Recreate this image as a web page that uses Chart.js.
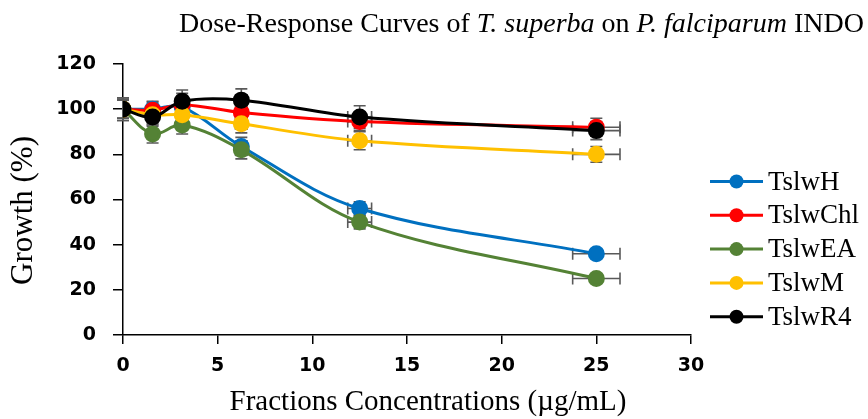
<!DOCTYPE html>
<html>
<head>
<meta charset="utf-8">
<script src="https://cdn.jsdelivr.net/npm/chart.js@4"></script>
<style>
  html, body { margin: 0; padding: 0; background: #fff; }
  #wrap { position: relative; width: 868px; height: 419px; }
  #title {
    position: absolute; left: 179px; top: 9px; white-space: nowrap; line-height: 28px;
    font-family: "Liberation Serif", "Times New Roman", serif; font-size: 28px; color: #000;
  }
</style>
</head>
<body>
<div id="wrap">
  <div id="title">Dose-Response Curves of <i>T. superba</i> on <i>P. falciparum</i> INDO</div>
  <canvas id="doseChart" width="868" height="419"></canvas>
</div>
<script>
// concentrations (µg/mL)
const conc = [0, 1.5625, 3.125, 6.25, 12.5, 25];
const concErr = [0, 0.08, 0.16, 0.31, 0.63, 1.25];

const seriesNames = ['TslwH', 'TslwChl', 'TslwEA', 'TslwM', 'TslwR4'];
const seriesColors = ['#0070C0', '#FF0000', '#548235', '#FFC000', '#000000'];

const tslwH   = [100, 100, 101, 83.5, 56, 36];
const tslwChl = [100, 99.5, 102, 98.5, 94.5, 92];
const tslwEA  = [100, 89, 93, 82, 50, 25];
const tslwM   = [100, 97.5, 97.5, 93.5, 86, 80];
const tslwR4  = [100, 96.5, 103.5, 104, 96.5, 90.5];

const errH   = [4, 3, 4, 4, 3, 2];
const errChl = [5, 4, 5, 4, 4, 4];
const errEA  = [4, 4, 4, 4, 3, 2];
const errM   = [4, 4, 4, 4, 4, 3.5];
const errR4  = [5, 4, 5, 5, 5, 4];

const xTicks = [0, 5, 10, 15, 20, 25, 30];
const yTicks = [0, 20, 40, 60, 80, 100, 120];

const xTitle = 'Fractions Concentrations (µg/mL)';
const yTitle = 'Growth (%)';

const allValues = [tslwH, tslwChl, tslwEA, tslwM, tslwR4];
const allErrors = [errH, errChl, errEA, errM, errR4];

const datasets = seriesNames.map((name, i) => ({
  label: name,
  data: conc.map((x, j) => ({ x: x, y: allValues[i][j] })),
  yErr: allErrors[i],
  borderColor: seriesColors[i],
  backgroundColor: seriesColors[i],
  pointBackgroundColor: seriesColors[i],
  pointBorderColor: seriesColors[i],
  pointRadius: 7,
  borderWidth: 3,
  showLine: true,
  tension: 0.35,
  order: seriesNames.length - i
}));

// error bars, drawn under the lines and markers
const errorBars = {
  id: 'errorBars',
  beforeDatasetsDraw(chart) {
    const ctx = chart.ctx;
    const xs = chart.scales.x, ys = chart.scales.y;
    ctx.save();
    ctx.strokeStyle = '#595959';
    ctx.lineWidth = 1.6;
    chart.data.datasets.forEach(ds => {
      ds.data.forEach((p, j) => {
        const px = xs.getPixelForValue(p.x);
        const py = ys.getPixelForValue(p.y);
        const yTop = ys.getPixelForValue(p.y + ds.yErr[j]);
        const yBot = ys.getPixelForValue(p.y - ds.yErr[j]);
        const xL = xs.getPixelForValue(p.x - concErr[j]);
        const xR = xs.getPixelForValue(p.x + concErr[j]);
        ctx.beginPath();
        ctx.moveTo(px, yTop); ctx.lineTo(px, yBot);
        ctx.moveTo(px - 6, yTop); ctx.lineTo(px + 6, yTop);
        ctx.moveTo(px - 6, yBot); ctx.lineTo(px + 6, yBot);
        if (concErr[j] > 0) {
          ctx.moveTo(xL, py); ctx.lineTo(xR, py);
          ctx.moveTo(xL, py - 6); ctx.lineTo(xL, py + 6);
          ctx.moveTo(xR, py - 6); ctx.lineTo(xR, py + 6);
        }
        ctx.stroke();
      });
    });
    ctx.restore();
  }
};

// axis titles sit a little off-centre in the original, so place them by hand
const axisTitles = {
  id: 'axisTitles',
  afterDraw(chart) {
    const ctx = chart.ctx;
    const a = chart.chartArea;
    ctx.save();
    ctx.fillStyle = '#000';
    ctx.textAlign = 'center';
    ctx.textBaseline = 'middle';
    ctx.font = '29px "Liberation Serif", serif';
    ctx.fillText(xTitle, (a.left + a.right) / 2 + 21, 402);
    ctx.translate(24, (a.top + a.bottom) / 2 + 11);
    ctx.rotate(-Math.PI / 2);
    ctx.font = '31px "Liberation Serif", serif';
    ctx.fillText(yTitle, 0, 0);
    ctx.restore();
  }
};

// legend on the right: line with marker, then name
const sideLegend = {
  id: 'sideLegend',
  afterDraw(chart) {
    const ctx = chart.ctx;
    ctx.save();
    ctx.font = '27px "Liberation Serif", serif';
    ctx.textBaseline = 'middle';
    chart.data.datasets.forEach((ds, i) => {
      const y = 181.5 + i * 33.8;
      ctx.strokeStyle = ds.borderColor;
      ctx.lineWidth = 3;
      ctx.beginPath();
      ctx.moveTo(710, y); ctx.lineTo(763, y);
      ctx.stroke();
      ctx.fillStyle = ds.borderColor;
      ctx.beginPath();
      ctx.arc(736.5, y, 7, 0, Math.PI * 2);
      ctx.fill();
      ctx.fillStyle = '#000';
      ctx.fillText(ds.label, 768, y + 1);
    });
    ctx.restore();
  }
};

new Chart(document.getElementById('doseChart'), {
  type: 'scatter',
  data: { datasets: datasets },
  options: {
    responsive: false,
    animation: false,
    layout: { padding: { top: 64, right: 177, left: 0, bottom: 0 } },
    plugins: {
      legend: { display: false },
      tooltip: { enabled: false }
    },
    scales: {
      x: {
        type: 'linear',
        min: 0, max: 30,
        afterBuildTicks: s => { s.ticks = xTicks.map(v => ({ value: v })); },
        afterFit: s => { s.height = 84; },
        border: { color: '#000', width: 1.5 },
        grid: { drawOnChartArea: false, drawTicks: true, tickLength: 9, color: '#000', lineWidth: 1.5 },
        ticks: { color: '#000', padding: 11, font: { family: '"DejaVu Sans"', weight: 'bold', size: 19 } }
      },
      y: {
        min: 0, max: 120,
        afterBuildTicks: s => { s.ticks = yTicks.map(v => ({ value: v })); },
        afterFit: s => { s.width = 123; },
        border: { color: '#000', width: 1.5 },
        grid: { drawOnChartArea: false, drawTicks: true, tickLength: 10, color: '#000', lineWidth: 1.5 },
        ticks: { color: '#000', padding: 17, font: { family: '"DejaVu Sans"', weight: 'bold', size: 19 } }
      }
    }
  },
  plugins: [errorBars, axisTitles, sideLegend]
});
</script>
</body>
</html>
